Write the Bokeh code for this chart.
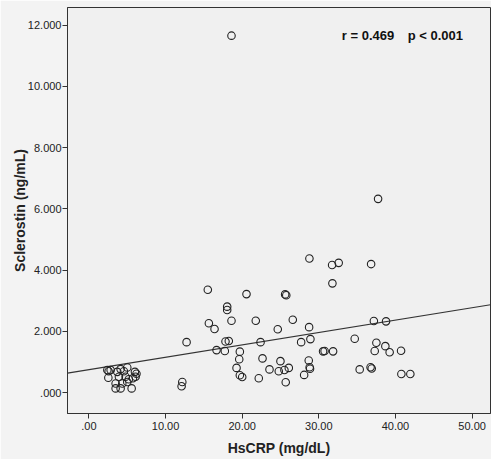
from bokeh.plotting import figure
from bokeh.models import Range1d, FixedTicker, Label
from bokeh.embed import file_html
from bokeh.resources import INLINE

# HsCRP (mg/dL) and sclerostin (ng/mL) per subject
hscrp = [
    2.40, 2.57, 2.83, 2.53, 3.70, 4.13, 4.56, 5.00, 6.00, 6.20, 3.91, 4.78,
    5.20, 5.74, 3.48, 4.35, 3.48, 4.13, 5.57, 6.09, 5.00,
    18.60, 37.73, 28.77, 31.73, 32.59, 36.82, 31.77, 15.51, 20.56, 25.60,
    25.75, 18.04, 18.04, 15.65, 16.39, 18.60, 21.77, 26.60, 24.64, 28.73,
    37.18, 38.77, 12.74, 17.82, 18.25, 22.39, 27.69, 28.90, 34.68, 37.51,
    16.65, 17.73, 19.69, 19.61, 22.65, 30.55, 30.75, 31.86, 24.99, 28.68,
    37.29, 38.68, 39.24, 40.73, 19.26, 23.56, 24.77, 25.51, 26.08, 28.80,
    28.85, 35.33, 36.75, 36.90, 19.69, 20.00, 22.16, 28.08, 40.77, 41.94,
    25.68, 12.18, 12.09,
]
sclerostin = [
    0.74, 0.70, 0.74, 0.49, 0.68, 0.77, 0.70, 0.82, 0.68, 0.62, 0.52, 0.52,
    0.44, 0.47, 0.30, 0.30, 0.14, 0.14, 0.14, 0.52, 0.35,
    11.66, 6.33, 4.38, 4.17, 4.24, 4.20, 3.57, 3.36, 3.22, 3.21,
    3.18, 2.81, 2.70, 2.27, 2.08, 2.35, 2.35, 2.38, 2.07, 2.14,
    2.34, 2.33, 1.65, 1.67, 1.69, 1.65, 1.65, 1.75, 1.76, 1.63,
    1.39, 1.36, 1.34, 1.09, 1.12, 1.35, 1.36, 1.35, 1.03, 1.05,
    1.36, 1.52, 1.32, 1.37, 0.81, 0.76, 0.70, 0.74, 0.81, 0.83,
    0.78, 0.76, 0.83, 0.79, 0.57, 0.51, 0.47, 0.58, 0.61, 0.61,
    0.34, 0.35, 0.21,
]

# Linear fit line (intercept, slope) and correlation statistics
fit_intercept = 0.75
fit_slope = 0.0405
r_value = 0.469
p_text = "p < 0.001"

x_ticks = [0, 10, 20, 30, 40, 50]
x_tick_labels = [".00", "10.00", "20.00", "30.00", "40.00", "50.00"]
y_ticks = [0, 2, 4, 6, 8, 10, 12]
y_tick_labels = [".000", "2.000", "4.000", "6.000", "8.000", "10.000", "12.000"]

X_MIN, X_MAX = -2.8, 52.4
Y_MIN, Y_MAX = -0.68, 12.58

FONT = "Liberation Sans"
INK = "#222222"

p = figure(
    width=491, height=459,
    x_range=Range1d(X_MIN, X_MAX), y_range=Range1d(Y_MIN, Y_MAX),
    output_backend="svg", toolbar_location=None,
    min_border_left=67, min_border_right=1,
    min_border_top=7, min_border_bottom=46,
    background_fill_color="#f0f0f0", border_fill_color="#f3f3f3",
)
p.outline_line_color = "#333333"
p.outline_line_width = 1
p.grid.visible = False

p.xaxis.ticker = FixedTicker(ticks=x_ticks)
p.xaxis.major_label_overrides = dict(zip(x_ticks, x_tick_labels))
p.yaxis.ticker = FixedTicker(ticks=y_ticks)
p.yaxis.major_label_overrides = dict(zip(y_ticks, y_tick_labels))

for ax in (p.xaxis, p.yaxis):
    ax.minor_tick_line_color = None
    ax.major_tick_in = 0
    ax.major_tick_out = 5
    ax.major_tick_line_color = "#333333"
    ax.axis_line_color = "#333333"
    ax.major_label_text_font = FONT
    ax.major_label_text_font_size = "11px"
    ax.major_label_text_color = INK
    ax.axis_label_text_font = FONT
    ax.axis_label_text_font_size = "14px"
    ax.axis_label_text_font_style = "bold"
    ax.axis_label_text_color = INK

p.xaxis.axis_label = "HsCRP (mg/dL)"
p.yaxis.axis_label = "Sclerostin (ng/mL)"
p.xaxis.major_label_standoff = 3
p.xaxis.axis_label_standoff = 7
p.yaxis.major_label_standoff = 1
p.yaxis.axis_label_standoff = -3

# Fit line across the full x extent
fit_x = [X_MIN, X_MAX]
fit_y = [fit_intercept + fit_slope * v for v in fit_x]
p.line(fit_x, fit_y, line_color="#333333", line_width=1.2)

p.scatter(hscrp, sclerostin, size=7.5, marker="circle",
          fill_color=None, line_color="#222222", line_width=1.1)

stat_style = dict(text_font=FONT, text_font_size="13px", text_font_style="bold",
                  text_color="#111111", text_baseline="middle")
p.add_layout(Label(x=33.0, y=11.65, text=f"r = {r_value:.3f}", **stat_style))
p.add_layout(Label(x=41.6, y=11.65, text=p_text, **stat_style))

open("out.html", "w").write(file_html(p, INLINE))
